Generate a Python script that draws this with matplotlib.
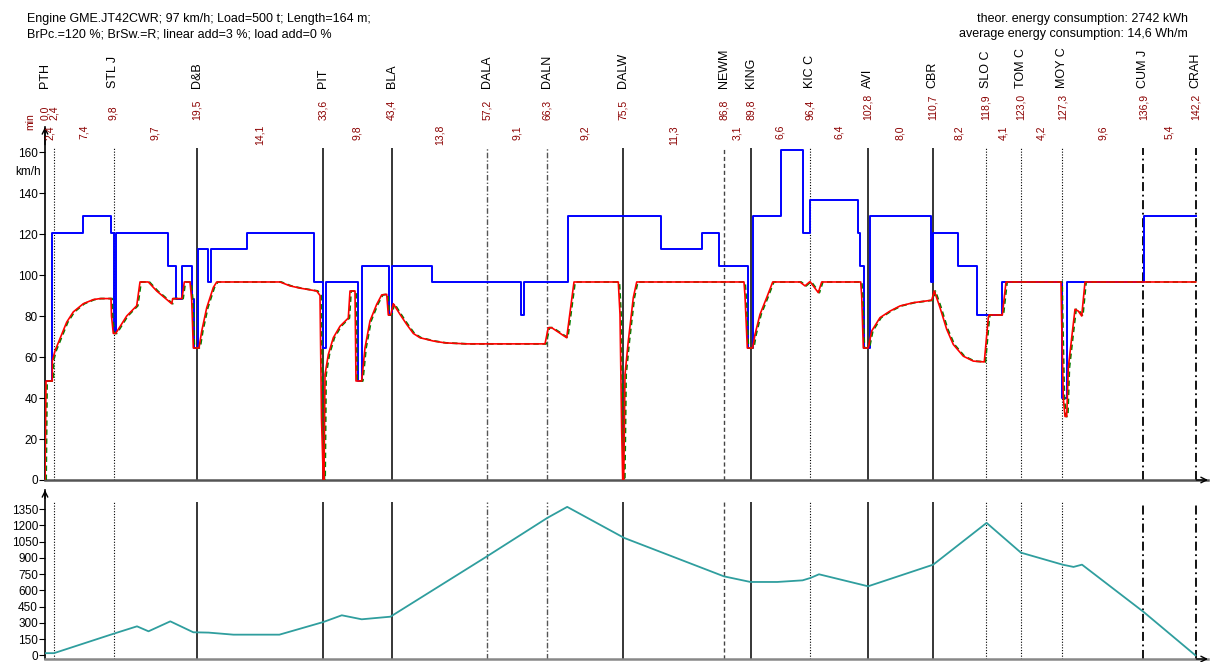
import matplotlib

matplotlib.use("Agg")
import matplotlib.pyplot as plt
from matplotlib.transforms import blended_transform_factory, ScaledTranslation

plt.rcParams["font.family"] = ["Liberation Sans", "DejaVu Sans"]

W, H = 1211, 662

HEADER_LEFT = [
    "Engine GME.JT42CWR; 97 km/h; Load=500 t; Length=164 m;",
    "BrPc.=120 %; BrSw.=R; linear add=3 %; load add=0 %",
]
HEADER_RIGHT = [
    "theor. energy consumption: 2742 kWh",
    "average energy consumption: 14,6 Wh/m",
]

# Stationen entlang der Strecke (Streckenposition in Diagrammeinheiten)
STATION_POS = [0, 9, 68.5, 151.7, 278.3, 346.7, 442.3, 502.3, 578.3, 679,
               705.7, 765, 823, 887.7, 941, 976, 1017.3, 1098.3, 1150.7]
STATION_NAMES = ["PTH", "", "STL J", "D&B", "PIT", "BLA", "DALA", "DALN", "DALW",
                 "NEWM", "KING", "KIC C", "AVI", "CBR", "SLO C", "TOM C", "MOY C",
                 "CUM J", "CRAH"]
STATION_TIMES = ["0,0", "2,4", "9,8", "19,5", "33,6", "43,4", "57,2", "66,3", "75,5",
                 "86,8", "89,8", "96,4", "102,8", "110,7", "118,9", "123,0", "127,3",
                 "136,9", "142,2"]
SEGMENT_TIMES = ["2,4", "7,4", "9,7", "14,1", "9,8", "13,8", "9,1", "9,2", "11,3",
                 "3,1", "6,6", "6,4", "8,0", "8,2", "4,1", "4,2", "9,6", "5,4"]
LINE_KIND = ["axis", "dotted", "dotted", "solid", "solid", "solid", "dashdot_gray",
             "dashdot_gray", "solid", "dashed", "solid", "dotted", "solid", "solid",
             "dotted", "dotted", "dotted", "dashdot", "dashdot"]

# Streckenhoechstgeschwindigkeit (Stufenfunktion)
LIMIT_POS = [0, 6.7, 37.7, 66, 68.7, 70.7, 122.7, 130.7, 137, 147.3, 149.3, 153.3,
             163.3, 166, 201.7, 269, 277.7, 281, 312.7, 316.7, 344, 346.5, 387.3,
             475.7, 479.3, 522.7, 616, 657.3, 674, 703.3, 707.7, 735.7, 758.3, 765,
             813.3, 815, 819, 824.5, 885.7, 887.7, 913.3, 931.7, 957.3, 1017.3,
             1021.7, 1099.3, 1150.7]
LIMIT_KMH = [48.3, 120.7, 128.7, 120.7, 72.4, 120.7, 104.6, 88.5, 104.6, 88.5, 64.4,
             112.7, 96.6, 112.7, 120.7, 96.6, 64.4, 96.6, 48.3, 104.6, 80.5, 104.6,
             96.6, 80.5, 96.6, 128.7, 112.7, 120.7, 104.6, 64.4, 128.7, 160.9, 120.7,
             136.8, 120.7, 104.6, 64.4, 128.7, 96.6, 120.7, 104.6, 80.5, 96.6, 40.2,
             96.6, 128.7, 128.7]

# gefahrene Geschwindigkeit
SPEED_POS = [0, 1, 7.3, 7.3, 10, 15, 21.7, 28.3, 38.3, 48.3, 55, 66, 66.5, 68.3, 70.7,
             81.7, 91.7, 95, 103.3, 111.7, 126.7, 127.7, 137, 139.3, 145, 146.7, 148.3,
             154, 156.7, 161.7, 168.3, 171.7, 235, 245, 255, 271.7, 275, 276.5, 278.3,
             279, 280, 283.3, 288.3, 295, 303.3, 305, 310, 311, 316.7, 320, 325, 331.7,
             336.7, 341.7, 343.3, 345.7, 348.3, 355, 361.7, 368.3, 375, 388.3, 400,
             421.7, 500, 503.3, 506.7, 521.7, 529, 573.3, 575, 576.7, 577.7, 578.7,
             579.3, 580, 583.3, 588.3, 591.7, 699, 700, 702.3, 707.7, 710, 715, 721.7,
             727.7, 755, 760, 765, 773.3, 776.7, 815.7, 816.7, 818.3, 823.3, 826.7,
             835, 845, 855, 868.3, 886.7, 889.3, 895, 901.7, 908.3, 918.3, 928.3,
             939.3, 943.3, 944, 957.3, 961, 1016, 1016.7, 1018.3, 1020, 1021.7, 1023.3,
             1026.7, 1030, 1033.3, 1036.7, 1040, 1150.7]
SPEED_KMH = [0, 48.3, 48.3, 58, 63, 69, 77, 82, 86, 88, 88.5, 88.5, 80, 71.5, 71.5,
             80, 85, 96.6, 96.6, 92.2, 86, 88.5, 88.5, 96.6, 96.6, 88, 64.4, 64.4,
             72.6, 84, 93.9, 96.6, 96.6, 94.7, 93.6, 92.2, 90, 30, 0, 0, 51.4, 61.2,
             69.4, 75, 79, 92.2, 92.2, 48.3, 48.3, 64.5, 77.6, 85.7, 90.3, 90.6, 80.5,
             80.5, 86, 80.8, 75.9, 71.5, 69.4, 67.8, 66.9, 66.4, 66.4, 74.3, 74.3, 69.4,
             96.6, 96.6, 80.8, 23.7, 0, 0, 23.7, 51.4, 67.8, 89, 96.6, 96.6, 89.8,
             64.4, 64.4, 71, 80.8, 89, 96.6, 96.6, 94.7, 96.8, 91.4, 96.6, 96.6, 89.8,
             64.4, 64.4, 72.7, 79.2, 82.4, 84.9, 86.5, 87.7, 92.2, 84.1, 73.5, 66.1,
             60.4, 58, 57.6, 79.2, 80.5, 80.5, 96.6, 96.6, 76.7, 40, 31, 31, 54.7, 69.4,
             83.3, 82.4, 80, 96.6, 96.6]

# Hoehenprofil
ELEV_POS = [0, 9, 68.7, 92, 103.5, 125.3, 148.3, 163.6, 188.4, 234.4, 278.4, 296.8,
            316.7, 345.4, 441, 502.3, 522.2, 579.2, 678.9, 705.4, 732.3, 757.6, 765.4,
            774, 823.1, 888.2, 941.6, 975.9, 1017.6, 1028.5, 1037, 1098.6, 1150.4]
ELEV_M = [20, 20, 200, 268, 222, 314, 213, 210, 191, 191, 308, 370, 333, 357, 909,
          1270, 1372, 1085, 730, 678, 678, 693, 715, 749, 638, 838, 1224, 949, 838,
          817, 838, 401, 0]

DARK_RED = "#8b0000"
LINE_STYLES = {
    "dotted": dict(color="black", lw=0.8, linestyles=[(0, (1, 1.5))]),
    "solid": dict(color="black", lw=1.1, linestyles="solid"),
    "dashdot_gray": dict(color="#555555", lw=1.0, linestyles=[(0, (4, 1.5, 1, 1.5))]),
    "dashed": dict(color="#444444", lw=1.0, linestyles=[(0, (3, 2))]),
    "dashdot": dict(color="black", lw=1.3, linestyles=[(0, (5, 2, 1, 2))]),
}


def px_rect(x0, y0, x1, y1):
    return [x0 / W, 1 - y1 / H, (x1 - x0) / W, (y1 - y0) / H]


def style_axes(ax, bottom_color):
    for side in ("top", "right"):
        ax.spines[side].set_visible(False)
    ax.spines["left"].set_color("black")
    ax.spines["left"].set_linewidth(1.2)
    ax.spines["bottom"].set_color(bottom_color)
    ax.spines["bottom"].set_linewidth(1.8)
    ax.set_xticks([])
    ax.tick_params(axis="y", length=4, width=0.8, labelsize=8.5, pad=1)
    arrow = dict(arrowstyle="->", lw=1.0, color="black", shrinkA=0, shrinkB=0)
    ax.annotate("", xy=(0, 1.0), xytext=(0, 0.95), xycoords="axes fraction",
                arrowprops=arrow)
    ax.annotate("", xy=(1.0, 0), xytext=(0.99, 0), xycoords="axes fraction",
                arrowprops=arrow)


fig = plt.figure(figsize=(W / 100, H / 100), dpi=100)
ax_v = fig.add_axes(px_rect(45, 127, 1208, 480))
ax_h = fig.add_axes(px_rect(45, 490, 1208, 659))

for ax in (ax_v, ax_h):
    ax.set_xlim(0, 1163)
ax_v.set_ylim(0, 172.2)
ax_h.set_ylim(-34, 1528)

for pos, kind in zip(STATION_POS, LINE_KIND):
    if kind == "axis":
        continue
    ax_v.vlines(pos, 0, 162, zorder=1, **LINE_STYLES[kind])
    ax_h.vlines(pos, -34, 1417, zorder=1, **LINE_STYLES[kind])

ax_v.plot(LIMIT_POS, LIMIT_KMH, drawstyle="steps-post", color="#0000ff", lw=1.4, zorder=2)
# gruene Kurve leicht versetzt unter der roten, damit sie nur an Flanken sichtbar ist
shift = ScaledTranslation(0.8 / 72, 0, fig.dpi_scale_trans)
ax_v.plot(SPEED_POS, SPEED_KMH, color="#008000", lw=1.3, ls=(0, (3, 2)), zorder=3,
          transform=ax_v.transData + shift)
ax_v.plot(SPEED_POS, SPEED_KMH, color="#ff0000", lw=1.2, zorder=4)

ax_h.plot(ELEV_POS, ELEV_M, color="#2f9e9e", lw=1.3, zorder=3)

style_axes(ax_v, "#555555")
style_axes(ax_h, "#888888")
ax_v.set_yticks(range(0, 161, 20))
ax_h.set_yticks(range(0, 1351, 150))

# Beschriftungen oberhalb der Diagramme
tr = blended_transform_factory(ax_v.transData, fig.transFigure)
for pos, name, t in zip(STATION_POS, STATION_NAMES, STATION_TIMES):
    ax_v.text(pos, 1 - 88 / H, name, rotation=90, ha="center", va="bottom",
              fontsize=9, transform=tr, clip_on=False)
    ax_v.text(pos, 1 - 120 / H, t, rotation=90, ha="center", va="bottom",
              fontsize=7.5, color=DARK_RED, transform=tr, clip_on=False)
for i, seg in enumerate(SEGMENT_TIMES):
    mid = (STATION_POS[i] + STATION_POS[i + 1]) / 2
    ax_v.text(mid, 1 - 125 / H, seg, rotation=90, ha="center", va="top",
              fontsize=7.5, color=DARK_RED, transform=tr, clip_on=False)

fig.text(30 / W, 1 - 130 / H, "min", rotation=90, ha="center", va="bottom",
         fontsize=7.5, color=DARK_RED)
fig.text(28 / W, 1 - 172 / H, "km/h", ha="center", va="center", fontsize=8.5)

for i, line in enumerate(HEADER_LEFT):
    fig.text(27 / W, 1 - (19 + 15.5 * i) / H, line, ha="left", va="center", fontsize=9)
for i, line in enumerate(HEADER_RIGHT):
    fig.text(1188 / W, 1 - (19 + 15.5 * i) / H, line, ha="right", va="center", fontsize=9)

fig.savefig("out.png", dpi=100)
